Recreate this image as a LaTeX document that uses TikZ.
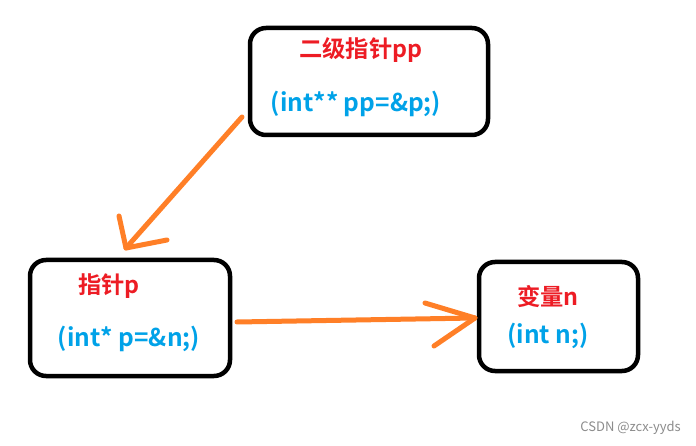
\documentclass[tikz,border=0pt]{standalone}
\usepackage{fontspec}
\setmainfont{Noto Sans CJK SC}[BoldFont={* Bold}]
\newfontfamily\wm{Noto Sans CJK SC}
\definecolor{pred}{HTML}{ED1C24}
\definecolor{pblue}{HTML}{00A2E8}
\definecolor{porange}{HTML}{FF7F27}
\begin{document}
\begin{tikzpicture}[x=1pt,y=-1pt,
  box/.style={draw=black,line width=4.5pt,rounded corners=16pt},
  redtxt/.style={text=pred,font=\fontsize{23.3}{26}\selectfont\bfseries,inner sep=0pt},
  bluetxt/.style={text=pblue,font=\fontsize{24.5}{28}\selectfont\bfseries,inner sep=0pt},
  stroke/.style={draw=porange,line width=5pt,line cap=round,line join=round}]
\useasboundingbox (0,0) rectangle (696,446);
\fill[white] (0,0) rectangle (696,446);
% boxes
\draw[box] (250,28) rectangle (488,135);
\draw[box] (30,260) rectangle (230,376);
\draw[box] (479,262) rectangle (638,371);
% texts
\node[redtxt] (t1) at (361,50) {二级指针pp};
\node[bluetxt] (b1) at (356,104) {(int** pp=\&p;)};
\node[redtxt] (t2) at (109,286) {指针p};
\node[bluetxt] (b2) at (129,339) {(int* p=\&n;)};
\node[redtxt] (t3) at (548,297) {变量n};
\node[bluetxt] (b3) at (548,336) {(int n;)};
% arrows
\coordinate (a1s) at (242,117);
\coordinate (a1e) at (126,248);
\coordinate (a1l) at (119,216);
\coordinate (a1r) at (167,240);
\draw[stroke] (a1s) -- (a1e);
\draw[stroke] (a1l) -- (a1e) -- (a1r);
\coordinate (a2s) at (237,322);
\coordinate (a2e) at (475,318);
\coordinate (a2l) at (425,303);
\coordinate (a2r) at (434,346);
\draw[stroke] (a2s) -- (a2e);
\draw[stroke] (a2l) -- (a2e) -- (a2r);
% watermark
\node[text=black!45,font=\wm\fontsize{13}{15}\selectfont,anchor=east,inner sep=0pt] (wm) at (681,428) {CSDN @zcx-yyds};
\end{tikzpicture}
\end{document}
